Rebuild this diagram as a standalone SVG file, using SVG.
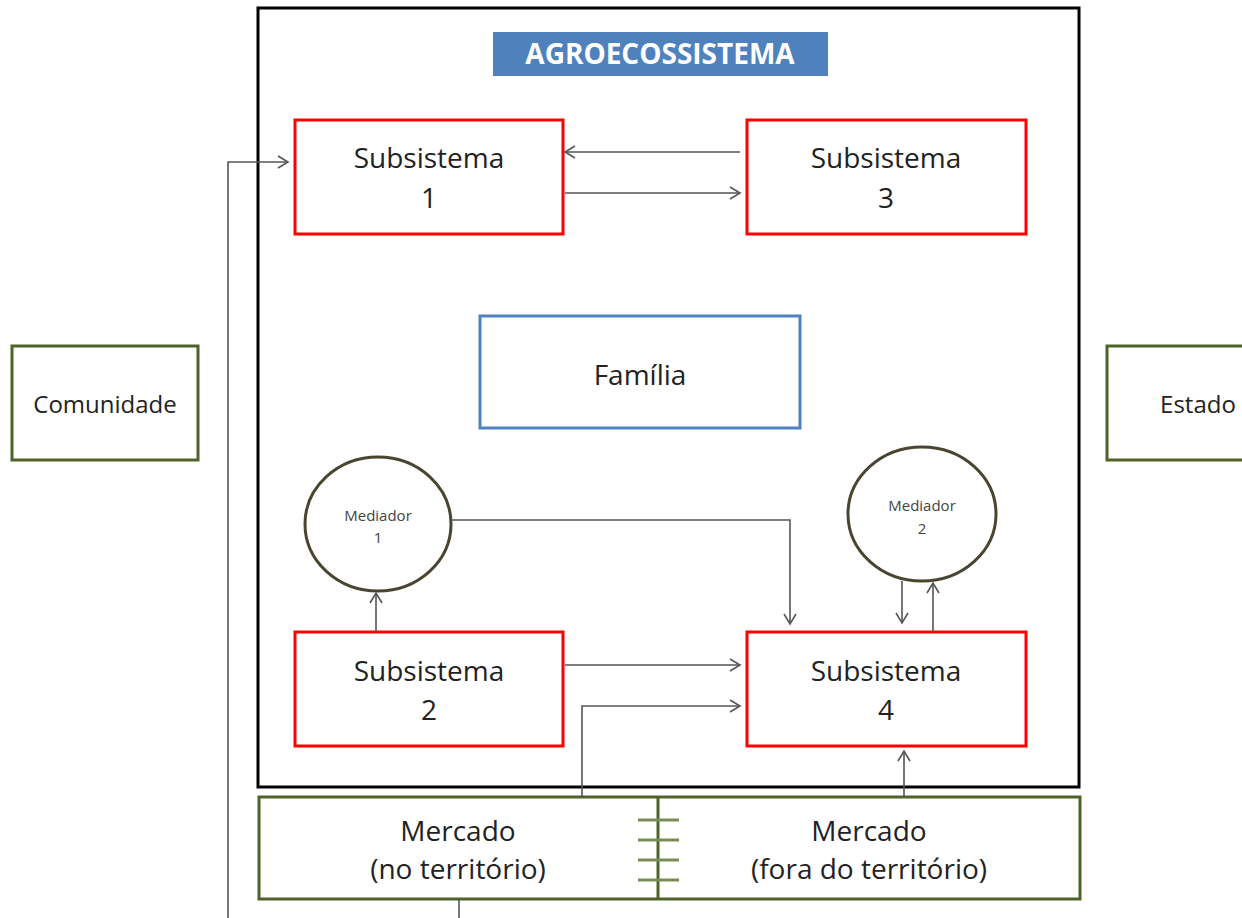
<svg xmlns="http://www.w3.org/2000/svg" width="1242" height="918" viewBox="0 0 1242 918">
<defs>
<marker id="arr" markerWidth="14" markerHeight="14" refX="12" refY="7" orient="auto" markerUnits="userSpaceOnUse">
<path d="M2,1 L12,7 L2,13" fill="none" stroke="#555" stroke-width="1.6"/>
</marker>
<style>
.t{font-family:"Open Sans","Liberation Sans",sans-serif;fill:#222;text-anchor:middle}
.big{font-size:28px}
.mid{font-size:24px}
.sm{font-size:15px;fill:#444}
.red{fill:#fff;stroke:#ff0000;stroke-width:3}
.grn{fill:#fff;stroke:#4f6228;stroke-width:3}
.med{fill:#fff;stroke:#4a4530;stroke-width:3}
.c{fill:none;stroke:#555;stroke-width:1.6}
</style>
</defs>
<rect width="1242" height="918" fill="#fff"/>
<g id="agroecossistema">
<rect x="258" y="8" width="821" height="779" fill="none" stroke="#000" stroke-width="3"/>
<rect x="493" y="32" width="335" height="44" fill="#4f81bd"/>
<text x="660" y="64" class="t" style="font-size:28px;font-weight:bold;fill:#fff">AGROECOSSISTEMA</text>
</g>
<g id="subsistema1">
<rect x="295" y="120" width="268" height="114" class="red"/>
<text x="429" y="168" class="t big">Subsistema</text>
<text x="429" y="208" class="t big">1</text>
</g>
<g id="subsistema3">
<rect x="747" y="120" width="279" height="114" class="red"/>
<text x="886" y="168" class="t big">Subsistema</text>
<text x="886" y="208" class="t big">3</text>
</g>
<g id="familia">
<rect x="480" y="316" width="320" height="112" fill="#fff" stroke="#4f81bd" stroke-width="3"/>
<text x="640" y="385" class="t big">Família</text>
</g>
<g id="comunidade">
<rect x="12" y="346" width="186" height="114" class="grn"/>
<text x="105" y="413" class="t mid">Comunidade</text>
</g>
<g id="estado">
<rect x="1107" y="346" width="140" height="114" class="grn"/>
<text x="1198" y="413" class="t mid">Estado</text>
</g>
<g id="mediador1">
<ellipse cx="378" cy="524" rx="73" ry="67" class="med"/>
<text x="378" y="521" class="t sm">Mediador</text>
<text x="378" y="543" class="t sm">1</text>
</g>
<g id="mediador2">
<ellipse cx="922" cy="514" rx="74" ry="67" class="med"/>
<text x="922" y="511" class="t sm">Mediador</text>
<text x="922" y="534" class="t sm">2</text>
</g>
<g id="subsistema2">
<rect x="295" y="632" width="268" height="114" class="red"/>
<text x="429" y="681" class="t big">Subsistema</text>
<text x="429" y="720" class="t big">2</text>
</g>
<g id="subsistema4">
<rect x="747" y="632" width="279" height="114" class="red"/>
<text x="886" y="681" class="t big">Subsistema</text>
<text x="886" y="720" class="t big">4</text>
</g>
<g id="mercado">
<rect x="259" y="797" width="821" height="102" class="grn"/>
<line x1="658" y1="797" x2="658" y2="899" stroke="#4f6228" stroke-width="3"/>
<g stroke="#7a8c55" stroke-width="3">
<line x1="638" y1="820" x2="679" y2="820"/>
<line x1="638" y1="840" x2="679" y2="840"/>
<line x1="638" y1="860" x2="679" y2="860"/>
<line x1="638" y1="880" x2="679" y2="880"/>
</g>
<text x="458" y="841" class="t big">Mercado</text>
<text x="458" y="879" class="t big">(no território)</text>
<text x="869" y="841" class="t big">Mercado</text>
<text x="869" y="879" class="t big">(fora do território)</text>
</g>
<g id="connectors">
<polyline points="228,918 228,162 288,162" class="c" marker-end="url(#arr)"/>
<line x1="740" y1="152" x2="565" y2="152" class="c" marker-end="url(#arr)"/>
<line x1="565" y1="193" x2="740" y2="193" class="c" marker-end="url(#arr)"/>
<line x1="565" y1="665" x2="740" y2="665" class="c" marker-end="url(#arr)"/>
<polyline points="582,797 582,706 740,706" class="c" marker-end="url(#arr)"/>
<polyline points="451,520 790,520 790,624" class="c" marker-end="url(#arr)"/>
<line x1="376" y1="632" x2="376" y2="593" class="c" marker-end="url(#arr)"/>
<line x1="902" y1="581" x2="902" y2="623" class="c" marker-end="url(#arr)"/>
<line x1="933" y1="632" x2="933" y2="583" class="c" marker-end="url(#arr)"/>
<line x1="904" y1="797" x2="904" y2="751" class="c" marker-end="url(#arr)"/>
<line x1="459" y1="899" x2="459" y2="918" class="c"/>
</g>
</svg>
